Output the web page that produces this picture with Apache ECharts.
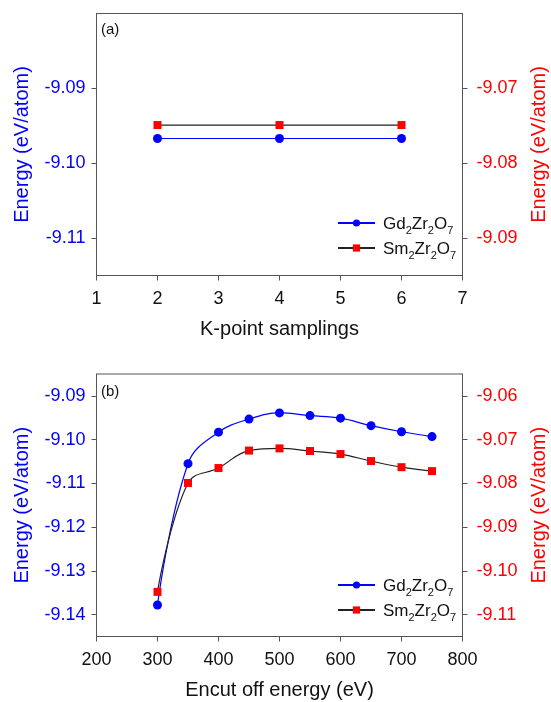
<!DOCTYPE html>
<html>
<head>
<meta charset="utf-8">
<script src="https://cdn.jsdelivr.net/npm/echarts@6/dist/echarts.min.js"></script>
<style>
  html, body { margin: 0; padding: 0; background: #ffffff; }
  #chart { width: 551px; height: 702px; }
</style>
</head>
<body>
<div id="chart"></div>
<script>
// Panel (a): total energy vs. k-point sampling
const kPoints = [2, 4, 6];
const kGd = [-9.0967, -9.0967, -9.0967];
const kSm = [-9.0749, -9.0749, -9.0749];
const kLeftTicks = [-9.11, -9.10, -9.09];
const kRightTicks = [-9.09, -9.08, -9.07];

// Panel (b): total energy vs. cutoff energy
const encut = [300, 350, 400, 450, 500, 550, 600, 650, 700, 750];
const encutGd = [-9.1378, -9.1055, -9.0983, -9.0953, -9.0939, -9.0945, -9.0951, -9.0968, -9.0982, -9.0993];
const encutSm = [-9.1048, -9.0799, -9.0765, -9.0725, -9.0720, -9.0726, -9.0733, -9.0749, -9.0763, -9.0772];
const eLeftTicks = [-9.14, -9.13, -9.12, -9.11, -9.10, -9.09];
const eRightTicks = [-9.11, -9.10, -9.09, -9.08, -9.07, -9.06];

const seriesNames = ['Gd2Zr2O7', 'Sm2Zr2O7'];

const FONT = '"Liberation Sans", Arial, sans-serif';
const BLUE = '#0000ff';
const RED = '#ff0000';
const AXIS = '#555555';

function chemLabel(name) {
  // split "Gd2Zr2O7" into element symbols and subscript digits
  return name.replace(/([A-Za-z]+)(\d+)/g, '{n|$1}{s|$2}');
}

const legendRich = {
  n: { fontSize: 17, fontFamily: FONT, color: '#111', verticalAlign: 'bottom', lineHeight: 20 },
  s: { fontSize: 11, fontFamily: FONT, color: '#111', verticalAlign: 'bottom', lineHeight: 11, padding: [0, 0, -3, 0] }
};

function xAxisCfg(gridIndex, min, max, interval, title) {
  return {
    type: 'value', gridIndex, min, max, interval,
    name: title, nameLocation: 'middle', nameGap: 44,
    nameTextStyle: { fontSize: 20, fontFamily: FONT, color: '#111' },
    axisLine: { show: true, lineStyle: { color: AXIS, width: 1 } },
    axisTick: { show: true, inside: false, length: 5, lineStyle: { color: AXIS } },
    axisLabel: { fontSize: 18, fontFamily: FONT, color: '#111', margin: 15 },
    splitLine: { show: false }
  };
}

function yAxisCfg(gridIndex, position, min, max, ticks, color) {
  return {
    type: 'value', gridIndex, position, min, max,
    name: 'Energy (eV/atom)', nameLocation: 'middle',
    nameGap: position === 'left' ? 64 : 67,
    nameTextStyle: { fontSize: 20, fontFamily: FONT, color },
    axisLine: { show: true, onZero: false, lineStyle: { color: AXIS, width: 1 } },
    axisTick: { show: true, inside: false, length: 5, customValues: ticks, lineStyle: { color: AXIS } },
    axisLabel: {
      fontSize: 18, fontFamily: FONT, color, margin: position === 'left' ? 11 : 14,
      customValues: ticks,
      formatter: v => v.toFixed(2)
    },
    splitLine: { show: false }
  };
}

function gdSeries(xIdx, yIdx, xs, ys, smooth) {
  return {
    name: seriesNames[0], type: 'line', xAxisIndex: xIdx, yAxisIndex: yIdx,
    data: xs.map((x, i) => [x, ys[i]]),
    smooth, symbol: 'circle', symbolSize: 9,
    itemStyle: { color: BLUE },
    lineStyle: { color: BLUE, width: 1.2 },
    emphasis: { disabled: true }
  };
}

function smSeries(xIdx, yIdx, xs, ys, smooth) {
  return {
    name: seriesNames[1], type: 'line', xAxisIndex: xIdx, yAxisIndex: yIdx,
    data: xs.map((x, i) => [x, ys[i]]),
    smooth, symbol: 'rect', symbolSize: 8,
    itemStyle: { color: RED },
    lineStyle: { color: '#222222', width: 1.2 },
    emphasis: { disabled: true }
  };
}

function legendCfg(top) {
  return {
    orient: 'vertical', left: 332, top,
    itemWidth: 37, itemHeight: 9, itemGap: 5,
    selectedMode: false,
    data: seriesNames,
    formatter: chemLabel,
    textStyle: { rich: legendRich, padding: [0, 0, 0, 3] }
  };
}

function gridCfg(top, height) {
  return {
    left: 96.5, right: 88.5, top, height,
    show: true, borderColor: AXIS, borderWidth: 1,
    containLabel: false, outerBoundsMode: 'none'
  };
}

const chart = echarts.init(document.getElementById('chart'), null, { renderer: 'canvas' });

chart.setOption({
  animation: false,
  backgroundColor: '#ffffff',
  grid: [gridCfg(13.5, 262), gridCfg(374, 262.5)],
  xAxis: [
    xAxisCfg(0, 1, 7, 1, 'K-point samplings'),
    xAxisCfg(1, 200, 800, 100, 'Encut off energy (eV)')
  ],
  yAxis: [
    yAxisCfg(0, 'left', -9.115, -9.08, kLeftTicks, BLUE),
    yAxisCfg(0, 'right', -9.095, -9.06, kRightTicks, RED),
    yAxisCfg(1, 'left', -9.145, -9.085, eLeftTicks, BLUE),
    yAxisCfg(1, 'right', -9.115, -9.055, eRightTicks, RED)
  ],
  legend: [legendCfg(211), legendCfg(573)],
  graphic: [
    { type: 'text', left: 101, top: 22, style: { text: '(a)', fontSize: 15, fontFamily: FONT, fill: '#111' } },
    { type: 'text', left: 101, top: 384, style: { text: '(b)', fontSize: 15, fontFamily: FONT, fill: '#111' } }
  ],
  series: [
    gdSeries(0, 0, kPoints, kGd, false),
    smSeries(0, 1, kPoints, kSm, false),
    gdSeries(1, 2, encut, encutGd, 0.4),
    smSeries(1, 3, encut, encutSm, 0.4)
  ]
});
</script>
</body>
</html>
